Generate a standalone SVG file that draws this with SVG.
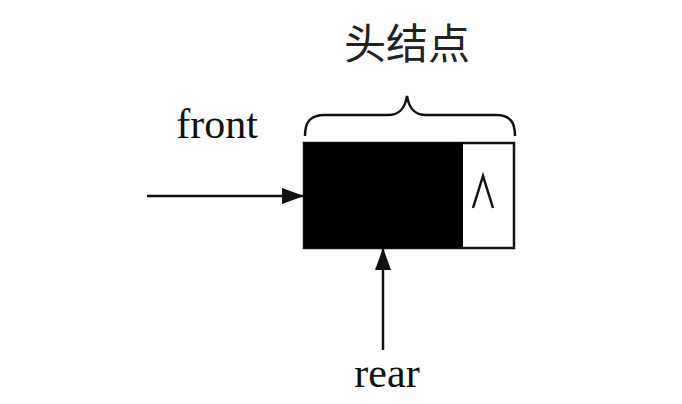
<svg xmlns="http://www.w3.org/2000/svg" width="682" height="404" viewBox="0 0 682 404">
<style>
.lbl{font-family:"Liberation Serif","Times New Roman",serif;font-size:42px;fill:#111}
.cjk{font-family:"Noto Sans CJK SC","Noto Sans",sans-serif;font-size:42px;fill:#222}
.ln{stroke:#111;stroke-width:2.5;fill:none}
</style>
<defs>
<marker id="ah" viewBox="0 0 10 10" refX="10" refY="5" markerWidth="8" markerHeight="8" markerUnits="userSpaceOnUse" orient="auto">
<path d="M0,0 L10,5 L0,10 z" fill="#111"/>
</marker>
<marker id="ah2" viewBox="0 0 22 16" refX="22" refY="8" markerWidth="22" markerHeight="16" markerUnits="userSpaceOnUse" orient="auto">
<path d="M0,0 L22,8 L0,16 z" fill="#111"/>
</marker>
</defs>
<rect width="682" height="404" fill="#fff"/>
<g id="head">
<rect x="304" y="143" width="210" height="105" fill="#fff" stroke="#111" stroke-width="2.5"/>
<rect x="304" y="143" width="159" height="105" fill="#000"/>
<path d="M473,208 L483,176 L493,208" class="ln" stroke-width="2.2"/>
</g>
<g id="brace">
<path class="ln" d="M305,136 C305,122 310,115 325,115 L388,115 C400,115 405,108 407,96 C409,108 414,115 426,115 L496,115 C510,115 515,122 515,136"/>
<text class="cjk" x="407" y="59" text-anchor="middle">头结点</text>
</g>
<g id="front">
<text class="lbl" x="217" y="138" text-anchor="middle">front</text>
</g>
<g id="rear">
<text class="lbl" x="387" y="387" text-anchor="middle">rear</text>
</g>
<g id="connectors">
<line class="ln" x1="147" y1="196" x2="304" y2="196" marker-end="url(#ah2)"/>
<line class="ln" x1="383" y1="350" x2="383" y2="248" marker-end="url(#ah2)"/>
</g>
</svg>
